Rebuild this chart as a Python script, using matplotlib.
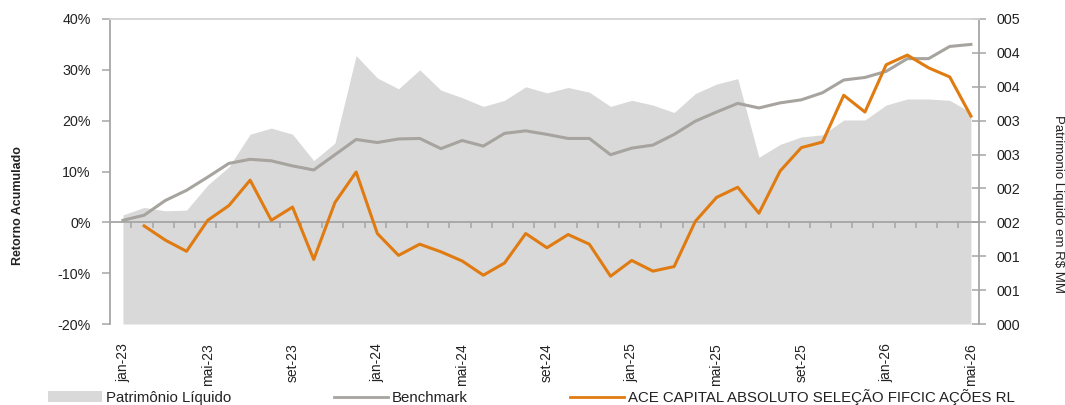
import numpy as np
import matplotlib.pyplot as plt
from matplotlib.patches import Patch
from matplotlib.lines import Line2D

plt.rcParams['font.family'] = ['Liberation Sans', 'DejaVu Sans']
plt.rcParams['text.color'] = '#222222'
plt.rcParams['xtick.labelcolor'] = '#222222'
plt.rcParams['ytick.labelcolor'] = '#222222'

# Monthly index: 0 = jan-23 ... 40 = mai-26
months = list(range(41))
xLabelPos = [0, 4, 8, 12, 16, 20, 24, 28, 32, 36, 40]
xLabels = ['jan-23', 'mai-23', 'set-23', 'jan-24', 'mai-24', 'set-24',
           'jan-25', 'mai-25', 'set-25', 'jan-26', 'mai-26']

# Retorno acumulado (%)
benchmark = [0.4, 1.4, 4.3, 6.3, 8.9, 11.6, 12.4, 12.1, 11.1, 10.3, 13.3, 16.3, 15.7, 16.4,
             16.5, 14.5, 16.1, 15.0, 17.5, 18.0, 17.3, 16.5, 16.5, 13.3, 14.6, 15.2, 17.3, 19.9,
             21.7, 23.4, 22.5, 23.5, 24.1, 25.5, 28.0, 28.5, 29.7, 32.2, 32.2, 34.6, 35.0]
fund = [np.nan, -0.7, -3.5, -5.7, 0.4, 3.3, 8.3, 0.4, 3.0, -7.3, 3.9, 9.9, -2.2, -6.5,
        -4.3, -5.8, -7.6, -10.4, -8.0, -2.2, -5.0, -2.4, -4.3, -10.6, -7.5, -9.6, -8.7, 0.2,
        4.9, 6.9, 1.8, 10.1, 14.7, 15.8, 25.0, 21.7, 31.0, 32.9, 30.4, 28.6, 20.9]

# Patrimonio liquido (R$ MM)
patrimonio = [1.61, 1.72, 1.67, 1.68, 2.05, 2.32, 2.80, 2.89, 2.80, 2.41, 2.67, 3.96, 3.63, 3.47,
              3.75, 3.45, 3.34, 3.21, 3.30, 3.50, 3.41, 3.49, 3.42, 3.21, 3.30, 3.23, 3.12, 3.40,
              3.54, 3.62, 2.46, 2.65, 2.76, 2.79, 3.01, 3.01, 3.23, 3.32, 3.32, 3.30, 3.12]

leftTicks = [-20, -10, 0, 10, 20, 30, 40]
rightTicks = [0, 0.5, 1.0, 1.5, 2.0, 2.5, 3.0, 3.5, 4.0, 4.5]
rightTickLabels = ['000', '001', '001', '002', '002', '003', '003', '004', '004', '005']

legendLabels = ['Patrimônio Líquido', 'Benchmark', 'ACE CAPITAL ABSOLUTO SELEÇÃO FIFCIC AÇÕES RL']

colorArea = '#d9d9d9'
colorBench = '#a7a49f'
colorFund = '#e07b12'
colorAxis = '#a6a6a6'

W, H = 1065, 405
fig = plt.figure(figsize=(W / 100, H / 100), dpi=100)
ax = fig.add_axes([110 / W, 81 / H, 869 / W, 305 / H])
ax2 = ax.twinx()
ax.set_zorder(ax2.get_zorder() + 1)
ax.patch.set_visible(False)

# ------------------------------- Plot data -----------------------------------
ax2.fill_between(months, patrimonio, 0, color=colorArea, lw=0)
ax.plot(months, benchmark, color=colorBench, lw=2.2)
ax.plot(months, fund, color=colorFund, lw=2.2)

ax.set_xlim(-0.61, 40.38)
ax.set_ylim(-20, 40)
ax2.set_ylim(0, 4.5)

# x labels at the bottom, no marks
ax.set_xticks(xLabelPos, xLabels, rotation=90)
ax.tick_params(axis='x', length=0, pad=14, labelsize=10)
ax.spines['bottom'].set_visible(False)

# horizontal axis line at 0% with small ticks
zeroAxis = ax.secondary_xaxis(1 / 3)
zeroAxis.set_xticks([i + 0.4 for i in range(40)])
zeroAxis.tick_params(length=4.5, width=1.1, color=colorAxis, labelbottom=False)
zeroAxis.spines['bottom'].set_color(colorAxis)
zeroAxis.spines['bottom'].set_linewidth(1.3)

# left axis
ax.set_yticks(leftTicks, [f'{v}%' for v in leftTicks])
ax.tick_params(axis='y', length=6, width=1.1, color=colorAxis, pad=8, labelsize=10.3)
ax.spines['left'].set_color(colorAxis)
ax.spines['left'].set_linewidth(1.3)
ax.spines['top'].set_color('#d3d3d3')
ax.spines['top'].set_linewidth(1.3)
ax.spines['right'].set_visible(False)

# right axis
ax2.set_yticks(rightTicks, rightTickLabels)
ax2.tick_params(axis='y', direction='inout', length=10, width=1.1, color=colorAxis,
                pad=7.5, labelsize=10.3)
for s in ['left', 'top', 'bottom']:
    ax2.spines[s].set_visible(False)
ax2.spines['right'].set_color(colorAxis)
ax2.spines['right'].set_linewidth(1.3)

fig.text(18 / W, 1 - 206 / H, 'Retorno Acumulado', rotation=90, fontsize=9,
         fontweight='bold', ha='center', va='center')
fig.text(1058 / W, 1 - 204 / H, 'Patrimonio Liquido em R$ MM', rotation=270, fontsize=9.5,
         ha='center', va='center')

handles = [Patch(facecolor=colorArea, lw=0),
           Line2D([], [], color=colorBench, lw=2),
           Line2D([], [], color=colorFund, lw=2)]
fig.legend(handles, legendLabels, loc='center left', bbox_to_anchor=(48 / W, 8 / H),
           ncol=3, frameon=False, fontsize=10.8, handlelength=3.6, handletextpad=0.25,
           columnspacing=6.85, borderpad=0, borderaxespad=0)

plt.savefig('out.png', dpi=100)
plt.close()
